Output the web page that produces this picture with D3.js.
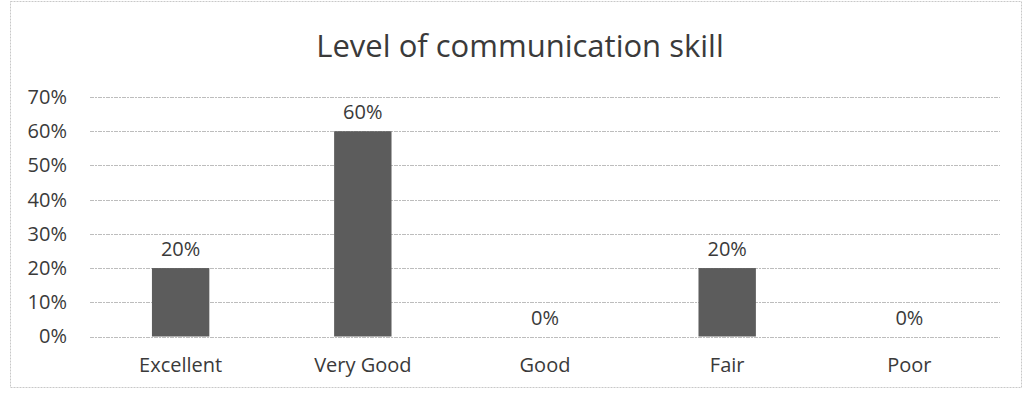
<!DOCTYPE html>
<html>
<head>
<meta charset="utf-8">
<script src="https://cdn.jsdelivr.net/npm/d3@7"></script>
<style>
  body { margin: 0; background: #fff; }
  text { font-family: "Open Sans", Lato, sans-serif; fill: #3a3a3a; }
</style>
</head>
<body>
<script>
var categories = ["Excellent", "Very Good", "Good", "Fair", "Poor"];
var values = [20, 60, 0, 20, 0];
var yTicks = [0, 10, 20, 30, 40, 50, 60, 70];
var title = "Level of communication skill";

var width = 1025,
    height = 395;
var margin = { top: 97, right: 25, bottom: 58, left: 90 };

var svg = d3.select("body")
    .append("svg")
    .attr("width", width)
    .attr("height", height);

// chart frame
svg.append("rect")
    .attr("x", 10.5).attr("y", 1.5)
    .attr("width", width - 14).attr("height", 386)
    .attr("fill", "#fff")
    .attr("stroke", "#c8c8c8")
    .attr("stroke-dasharray", "2,1");

var x = d3.scaleBand()
    .domain(categories)
    .range([margin.left, width - margin.right])
    .paddingInner(0.685)
    .paddingOuter(0.34);

var y = d3.scaleLinear()
    .domain([0, 70])
    .range([height - margin.bottom - 0.5, margin.top]);

// grid
svg.append("g")
    .selectAll("line")
    .data(yTicks)
    .enter()
    .append("line")
    .attr("x1", margin.left)
    .attr("x2", width - margin.right)
    .attr("y1", function (d) { return Math.round(y(d)) + 0.5; })
    .attr("y2", function (d) { return Math.round(y(d)) + 0.5; })
    .attr("stroke", "#bdbdbd")
    .attr("stroke-width", 1)
    .attr("stroke-dasharray", "4,1,2,1");

// y axis labels
var yAxis = d3.axisLeft(y)
    .tickValues(yTicks)
    .tickFormat(function (d) { return d + "%"; })
    .tickSize(0)
    .tickPadding(0);
var gy = svg.append("g")
    .attr("transform", "translate(67,0)")
    .call(yAxis);
gy.select(".domain").remove();
gy.selectAll("text")
    .style("font-size", "20px")
    .style("fill", "#3a3a3a")
    .style("font-family", "'Open Sans', sans-serif");

// bars
svg.append("g")
    .selectAll("rect")
    .data(values)
    .enter()
    .append("rect")
    .attr("x", function (d, i) { return x(categories[i]); })
    .attr("y", function (d) { return y(d); })
    .attr("width", x.bandwidth())
    .attr("height", function (d) { return y(0) - y(d); })
    .attr("fill", "#5c5c5c");

// data labels
svg.append("g")
    .selectAll("text")
    .data(values)
    .enter()
    .append("text")
    .attr("x", function (d, i) { return x(categories[i]) + x.bandwidth() / 2; })
    .attr("y", function (d) { return y(d) - 12; })
    .attr("text-anchor", "middle")
    .style("font-size", "20px")
    .text(function (d) { return d + "%"; });

// x axis labels
var xAxis = d3.axisBottom(x).tickSize(0).tickPadding(0);
var gx = svg.append("g")
    .attr("transform", "translate(0," + (y(0) + 21) + ")")
    .call(xAxis);
gx.select(".domain").remove();
gx.selectAll("text")
    .style("font-size", "20px")
    .style("fill", "#3a3a3a")
    .style("font-family", "'Open Sans', sans-serif");

// title
svg.append("text")
    .attr("x", 520)
    .attr("y", 57)
    .attr("text-anchor", "middle")
    .style("font-size", "31px")
    .text(title);
</script>
</body>
</html>
